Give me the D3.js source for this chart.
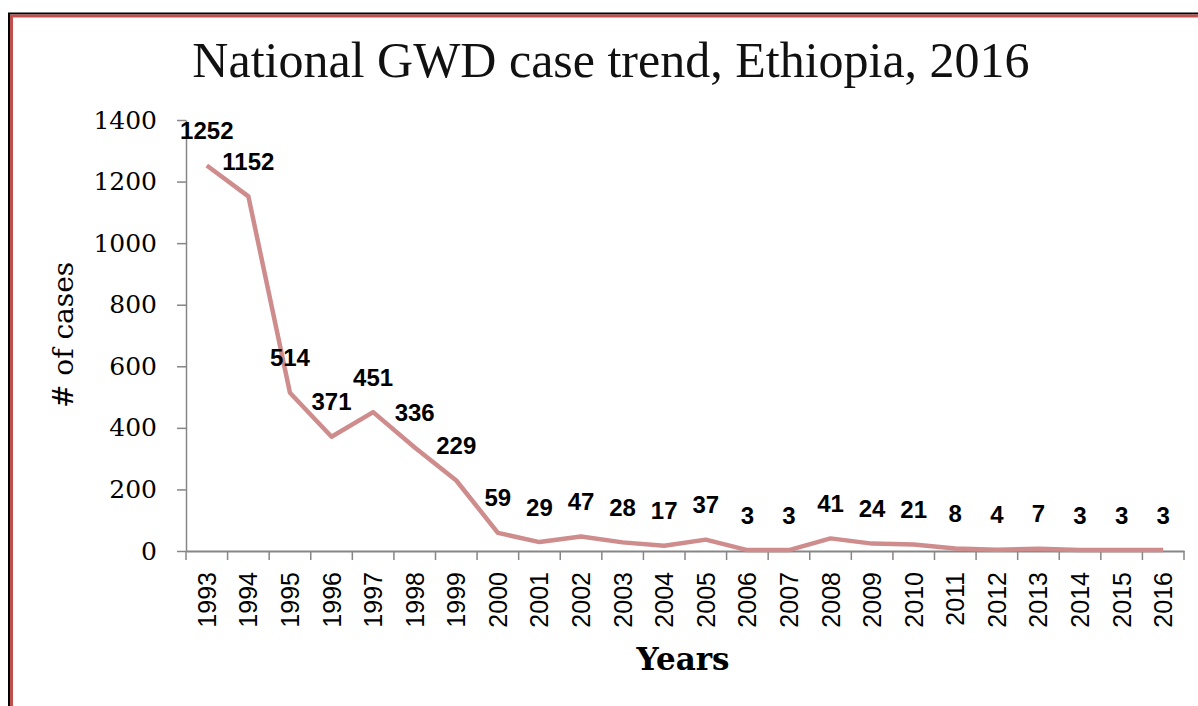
<!DOCTYPE html>
<html>
<head>
<meta charset="utf-8">
<script src="https://cdn.jsdelivr.net/npm/d3@7"></script>
<style>
  html, body { margin: 0; padding: 0; background: #fff; overflow: hidden; }
  svg { display: block; }
</style>
</head>
<body>
<svg id="chart" width="1198" height="706"></svg>
<script>
const years = ["1993","1994","1995","1996","1997","1998","1999","2000","2001","2002","2003","2004","2005","2006","2007","2008","2009","2010","2011","2012","2013","2014","2015","2016"];
const cases = [1252,1152,514,371,451,336,229,59,29,47,28,17,37,3,3,41,24,21,8,4,7,3,3,3];
const yTicks = [0,200,400,600,800,1000,1200,1400];
const titleText = "National GWD case trend, Ethiopia, 2016";
const xTitle = "Years";
const yTitle = "# of cases";

const svg = d3.select("#chart");
const plotL = 186, plotR = 1184, plotT = 120, plotB = 551;

// frame
svg.append("rect").attr("x", 9).attr("y", 13.5).attr("width", 1300).attr("height", 800)
  .attr("fill", "none").attr("stroke", "#000").attr("stroke-width", 2);
svg.append("rect").attr("x", 11.5).attr("y", 16).attr("width", 1300).attr("height", 800)
  .attr("fill", "none").attr("stroke", "#c0504d").attr("stroke-width", 3);

const x = d3.scaleBand().domain(years).range([plotL, plotR]).paddingInner(0).paddingOuter(0);
const y = d3.scaleLinear().domain([0, 1400]).range([plotB, plotT]);
const cx = d => x(d) + x.bandwidth() / 2;

// title
svg.append("text").attr("x", 611).attr("y", 77).attr("text-anchor", "middle")
  .attr("font-family", "Liberation Serif").attr("font-size", 50).attr("fill", "#111")
  .text(titleText);

// y axis
const yAxis = svg.append("g").attr("transform", `translate(${plotL},0)`)
  .call(d3.axisLeft(y).tickValues(yTicks).tickFormat(d3.format("d")).tickSize(9).tickSizeOuter(0).tickPadding(20));
yAxis.select(".domain").attr("stroke", "#868686").attr("stroke-width", 1.5);
yAxis.selectAll(".tick line").attr("stroke", "#868686").attr("stroke-width", 1.5);
yAxis.selectAll(".tick text").attr("font-family", "DejaVu Serif").attr("font-size", 25).attr("fill", "#000");

// x axis
const xAxis = svg.append("g").attr("transform", `translate(0,${plotB})`)
  .call(d3.axisBottom(x).tickSize(0).tickSizeOuter(0));
xAxis.select(".domain").attr("stroke", "#868686").attr("stroke-width", 2);
xAxis.selectAll(".tick text")
  .attr("transform", "rotate(-90)")
  .attr("x", -21).attr("y", 0).attr("dy", "0.36em")
  .attr("text-anchor", "end")
  .attr("font-family", "Liberation Sans").attr("font-size", 25).attr("fill", "#000");
// boundary tick marks (between categories)
const bounds = years.map(d => x(d)).concat([x(years[years.length - 1]) + x.step()]);
xAxis.selectAll(".btick").data(bounds).join("line").attr("class", "btick")
  .attr("x1", d => d).attr("x2", d => d).attr("y1", 0).attr("y2", 9)
  .attr("stroke", "#868686").attr("stroke-width", 1.5);

// axis titles
svg.append("text").attr("x", 683).attr("y", 670).attr("text-anchor", "middle")
  .attr("font-family", "DejaVu Serif").attr("font-weight", "bold").attr("font-size", 31).attr("fill", "#000")
  .text(xTitle);
svg.append("text").attr("transform", "translate(63,335) rotate(-90)").attr("text-anchor", "middle")
  .attr("dy", "0.35em")
  .attr("font-family", "DejaVu Serif").attr("font-size", 28).attr("fill", "#000")
  .text(yTitle);

// line
const data = years.map((yr, i) => ({ yr, v: cases[i] }));
svg.append("path").datum(data)
  .attr("fill", "none").attr("stroke", "#cf8c8c").attr("stroke-width", 4.5)
  .attr("stroke-linejoin", "round").attr("stroke-linecap", "butt")
  .attr("d", d3.line().x(d => cx(d.yr)).y(d => y(d.v)));

// data labels
svg.selectAll(".dl").data(data).join("text").attr("class", "dl")
  .attr("x", d => cx(d.yr)).attr("y", d => y(d.v) - 35).attr("dy", "0.36em")
  .attr("text-anchor", "middle")
  .attr("font-family", "Liberation Sans").attr("font-weight", "bold").attr("font-size", 24).attr("fill", "#000")
  .text(d => d.v);
</script>
</body>
</html>
